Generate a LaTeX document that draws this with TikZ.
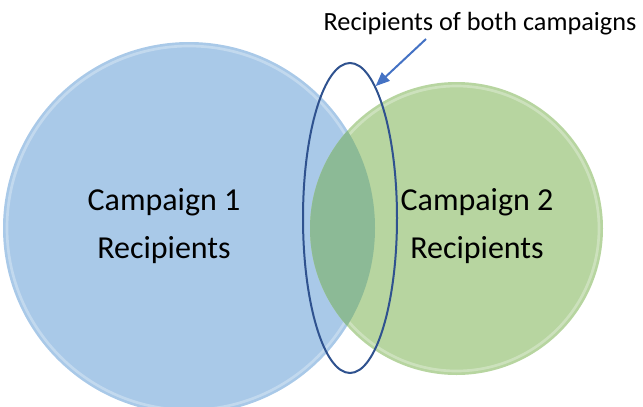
\documentclass[tikz,border=0pt]{standalone}
\usepackage{fontspec}
\setmainfont{Carlito}
\usepackage{tikz}
\usetikzlibrary{shapes.geometric}
\usetikzlibrary{arrows.meta}

\definecolor{setblue}{RGB}{169,201,232}
\definecolor{setgreen}{RGB}{183,213,160}
\definecolor{setboth}{RGB}{140,186,150}
\definecolor{ringblue}{RGB}{47,82,143}
\definecolor{arrowblue}{RGB}{68,114,196}

\tikzset{
  setlabel/.style={align=center,font=\fontsize{24}{36}\selectfont},
  toplabel/.style={font=\fontsize{19.7}{24}\selectfont,inner sep=0pt},
  rim/.style={draw=white,draw opacity=0.3,line width=2pt}
}

\begin{document}
\begin{tikzpicture}[x=0.75pt,y=0.75pt,yscale=-1,xscale=1]
\useasboundingbox (0,0) rectangle (643,407);

%Shape: Circle [campaign 1]
\fill[setblue] (189,228) circle [radius=186];
\draw[rim] (189,228) circle [radius=182];
%Shape: Circle [campaign 2]
\fill[setgreen] (456.5,228.5) circle [radius=146.5];
\draw[rim] (456.5,228.5) circle [radius=142.5];
%Shape: Lens [overlap]
\begin{scope}
\clip (189,228) circle [radius=186];
\fill[setboth] (456.5,228.5) circle [radius=146.5];
\end{scope}

%Shape: Ellipse [both]
\node[ellipse,draw=ringblue,line width=1.5pt,minimum width=70.5pt,minimum height=232.5pt,inner sep=0pt] (both) at (350,218) {};

% Text Node
\node[setlabel] (c1) at (164,226) {Campaign 1\\Recipients};
% Text Node
\node[setlabel] (c2) at (477,226) {Campaign 2\\Recipients};
% Text Node
\node[toplabel] (top) at (480,24) {Recipients of both campaigns};

\coordinate (tail) at (426,39);
\draw[arrowblue,line width=1.5pt,-{Triangle[length=10.5pt,width=8.5pt]}] (tail) -- (both.79.4);

\end{tikzpicture}
\end{document}
